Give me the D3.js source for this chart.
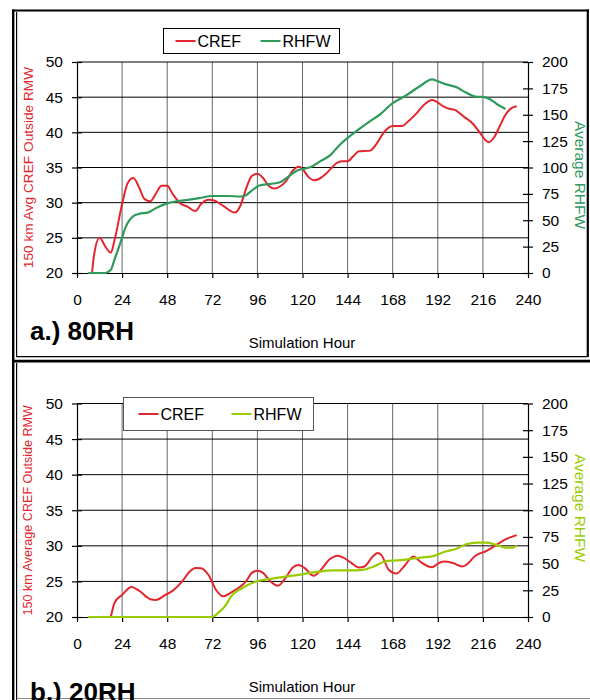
<!DOCTYPE html>
<html>
<head>
<meta charset="utf-8">
<script src="https://cdn.jsdelivr.net/npm/d3@7"></script>
<style>
  body { margin: 0; background: #fff; }
  svg { display: block; font-family: "Liberation Sans", Arial, sans-serif; }
</style>
</head>
<body>
<div id="chart"></div>
<script>
// x ticks shared by both panels
const hourTicks = [0, 24, 48, 72, 96, 120, 144, 168, 192, 216, 240];
const crefTicks = [20, 25, 30, 35, 40, 45, 50];
const rhfwTicks = [0, 25, 50, 75, 100, 125, 150, 175, 200];

// panel a.) 80RH
const crefHoursA = [8, 9, 12, 15, 18, 20, 24, 27, 30, 33, 36, 39, 42, 45, 48, 51, 55, 59, 63, 66, 70, 73, 78, 84, 87, 90, 93, 96, 99, 102, 105, 108, 111, 115, 118, 120, 123, 126, 129, 132, 135, 138, 141, 144, 147, 150, 156, 159, 163, 166, 168, 173, 176, 181, 185, 189, 191, 195, 198, 201, 206, 210, 214, 217, 219, 222, 225, 228, 231, 234];
const crefA = [20, 22.4, 25, 23.8, 22.9, 24.7, 29.8, 32.8, 33.5, 32.2, 30.5, 30.2, 31.3, 32.4, 32.4, 31.2, 29.9, 29.4, 28.8, 29.8, 30.4, 30.3, 29.5, 28.6, 29.6, 32.0, 33.8, 34.1, 33.5, 32.4, 32.0, 32.3, 33.0, 34.6, 35.1, 34.8, 33.7, 33.2, 33.4, 34.0, 34.8, 35.6, 35.9, 35.9, 36.6, 37.3, 37.4, 38.2, 39.9, 40.7, 40.9, 40.9, 41.5, 42.8, 44.0, 44.6, 44.4, 43.7, 43.35, 43.2, 42.2, 41.4, 40.1, 39.0, 38.6, 39.3, 40.9, 42.5, 43.4, 43.7];
const rhfwHoursA = [6, 15, 18, 20, 23, 26, 30, 33, 38, 42, 48, 53, 58, 65, 72, 80, 87, 89, 94, 97, 103, 108, 113, 117, 120, 125, 130, 135, 139, 144, 149, 156, 161, 168, 174, 182, 189, 191, 196, 202, 207, 213, 216, 220, 224, 228];
const rhfwA = [0, 0, 3, 13, 28, 44, 54, 56, 57.5, 61.5, 66, 68, 69, 71, 73, 73, 72.5, 73, 79.5, 83, 84.5, 86, 92, 97, 98.5, 101, 106.5, 112, 120, 128, 135, 144, 150, 161, 167, 176.5, 183.5, 182.5, 179, 176, 171, 167, 167, 164.5, 159.5, 155.5];

// panel b.) 20RH
const crefHoursB = [18, 20, 24, 29, 33, 39, 42, 47, 51, 56, 60, 63, 66, 70, 74, 78, 81, 86, 90, 93, 96, 99, 103, 107, 111, 115, 118, 121, 126, 130, 134, 139, 142, 146, 150, 153, 157, 160, 162, 166, 170, 174, 179, 183, 189, 192, 195, 200, 205, 207, 212, 218, 223, 228, 234];
const crefB = [20, 22, 23.1, 24.2, 23.7, 22.5, 22.4, 23.1, 23.7, 25, 26.4, 26.9, 26.85, 25.9, 23.8, 22.9, 23.3, 24.1, 25, 26.2, 26.5, 26.2, 25, 24.4, 25.5, 27, 27.3, 26.9, 25.8, 26.7, 28, 28.6, 28.3, 27.6, 26.95, 27.1, 28.4, 29, 28.7, 26.6, 26.1, 27.1, 28.5, 27.7, 27, 27.5, 27.8, 27.6, 27.1, 27.3, 28.6, 29.3, 30.1, 30.9, 31.5];
const rhfwHoursB = [6, 72, 75, 79, 82, 87, 92, 97, 104, 112, 118, 127, 136, 145, 152, 158, 164, 170, 177, 183, 190, 196, 202, 207, 213, 218, 223, 228, 232, 234];
const rhfwB = [0, 0, 3.7, 10.6, 19.3, 26.2, 31, 34, 36, 38, 39.5, 42, 43.6, 43.6, 44.2, 47.3, 52, 53, 54.2, 55.7, 57.3, 61.3, 64, 68.2, 69.7, 69.7, 67.6, 65, 65, 67];

const RED = "#e3262e";

const svg = d3.select("#chart").append("svg")
    .attr("width", 590)
    .attr("height", 700);

// frames
function frames() {
    const f = svg.append("g").attr("fill", "none");
    // outer thick frame
    f.append("line").attr("x1", 13.2).attr("x2", 13.2).attr("y1", 9.5).attr("y2", 700)
        .attr("stroke", "#000").attr("stroke-width", 2.4);
    f.append("line").attr("x1", 12).attr("x2", 589).attr("y1", 10.5).attr("y2", 10.5)
        .attr("stroke", "#000").attr("stroke-width", 2.2);
    f.append("line").attr("x1", 587.8).attr("x2", 587.8).attr("y1", 9.5).attr("y2", 357)
        .attr("stroke", "#000").attr("stroke-width", 2.2);
    f.append("line").attr("x1", 12).attr("x2", 590).attr("y1", 361.2).attr("y2", 361.2)
        .attr("stroke", "#000").attr("stroke-width", 2.8);
    // inner thin lines
    f.append("path").attr("d", "M16.6,12 V356.6 H587")
        .attr("stroke", "#000").attr("stroke-width", 1.2);
    f.append("line").attr("x1", 16.6).attr("x2", 16.6).attr("y1", 363).attr("y2", 700)
        .attr("stroke", "#000").attr("stroke-width", 1.2);
    f.append("line").attr("x1", 17).attr("x2", 590).attr("y1", 698.5).attr("y2", 698.5)
        .attr("stroke", "#888").attr("stroke-width", 1);
}

function panel(opt) {
    const top = opt.top, bottom = opt.bottom;
    const left = 77, right = 528;
    const g = svg.append("g");

    const x = d3.scaleLinear().domain([0, 240]).range([left, right]);
    const yL = d3.scaleLinear().domain([20, 50]).range([bottom, top]);
    const yR = d3.scaleLinear().domain([0, 200]).range([bottom, top]);

    // grid
    g.append("g")
        .selectAll("line.v")
        .data(hourTicks.slice(1, -1))
        .enter().append("line")
        .attr("x1", d => x(d)).attr("x2", d => x(d))
        .attr("y1", top).attr("y2", bottom)
        .attr("stroke", "#666").attr("stroke-width", 1);
    g.append("g")
        .selectAll("line.h")
        .data(crefTicks.slice(1, -1))
        .enter().append("line")
        .attr("x1", left).attr("x2", right)
        .attr("y1", d => yL(d)).attr("y2", d => yL(d))
        .attr("stroke", "#000").attr("stroke-width", 1);
    g.append("line")
        .attr("x1", left).attr("x2", right)
        .attr("y1", top).attr("y2", top)
        .attr("stroke", "#000").attr("stroke-width", 1);

    // axes
    const xAxis = g.append("g")
        .attr("transform", "translate(0," + bottom + ")")
        .call(d3.axisBottom(x).tickValues(hourTicks).tickSizeInner(5).tickSizeOuter(0).tickPadding(16));
    const lAxis = g.append("g")
        .attr("transform", "translate(" + left + ",0)")
        .call(d3.axisLeft(yL).tickValues(crefTicks).tickSizeInner(5).tickSizeOuter(0).tickPadding(9));
    lAxis.selectAll(".tick line").attr("x2", 5).attr("x1", -5);
    const rAxis = g.append("g")
        .attr("transform", "translate(" + right + ",0)")
        .call(d3.axisRight(yR).tickValues(rhfwTicks).tickSizeInner(5).tickSizeOuter(0).tickPadding(9));
    rAxis.selectAll(".tick line").attr("x1", -5).attr("x2", 5);

    [xAxis, lAxis, rAxis].forEach(a => {
        a.select(".domain").attr("stroke", "#000").attr("stroke-width", 1.2);
        a.selectAll(".tick line").attr("stroke", "#000").attr("stroke-width", 1.2);
        a.selectAll("text").attr("fill", "#000")
            .style("font-size", "15.5px")
            .style("font-family", "'Liberation Sans', Arial, sans-serif");
    });

    // series
    const lineL = d3.line().x(d => x(d[0])).y(d => yL(d[1])).curve(d3.curveMonotoneX);
    const lineR = d3.line().x(d => x(d[0])).y(d => yR(d[1])).curve(d3.curveMonotoneX);
    g.append("path")
        .datum(d3.zip(opt.crefHours, opt.cref))
        .attr("fill", "none").attr("stroke", RED).attr("stroke-width", 2)
        .attr("stroke-linejoin", "round")
        .attr("d", lineL);
    g.append("path")
        .datum(d3.zip(opt.rhfwHours, opt.rhfw))
        .attr("fill", "none").attr("stroke", opt.green).attr("stroke-width", 2.2)
        .attr("stroke-linejoin", "round")
        .attr("d", lineR);

    // axis titles
    g.append("text")
        .attr("transform", "translate(" + opt.lTitleX + "," + ((top + bottom) / 2) + ") rotate(-90)")
        .attr("text-anchor", "middle")
        .attr("fill", RED)
        .style("font-size", opt.lTitleSize + "px")
        .text(opt.lTitle);
    g.append("text")
        .attr("transform", "translate(574.5," + opt.rTitleY + ") rotate(90)")
        .attr("text-anchor", "middle")
        .attr("fill", opt.green)
        .style("font-size", "15.5px")
        .text("Average RHFW");
    g.append("text")
        .attr("x", 302).attr("y", opt.xTitleY)
        .attr("text-anchor", "middle")
        .style("font-size", "15px")
        .text("Simulation Hour");
    g.append("text")
        .attr("x", 30).attr("y", opt.labelY)
        .style("font-size", "26px").style("font-weight", "bold")
        .text(opt.label);

    // legend
    const lg = opt.legend;
    g.append("rect")
        .attr("x", lg.x).attr("y", lg.y).attr("width", lg.w).attr("height", lg.h)
        .attr("fill", "#fff").attr("stroke", lg.stroke).attr("stroke-width", 1);
    const items = [["CREF", RED, lg.x1], ["RHFW", opt.green, lg.x2]];
    items.forEach(([name, color, lx]) => {
        g.append("line")
            .attr("x1", lx).attr("x2", lx + 20)
            .attr("y1", lg.y + lg.h / 2).attr("y2", lg.y + lg.h / 2)
            .attr("stroke", color).attr("stroke-width", 2);
        g.append("text")
            .attr("x", lx + 22).attr("y", lg.y + lg.h / 2 + 5.5)
            .style("font-size", "16px")
            .text(name);
    });
}

frames();

panel({
    top: 62, bottom: 273,
    crefHours: crefHoursA, cref: crefA,
    rhfwHours: rhfwHoursA, rhfw: rhfwA,
    green: "#2f9a5c",
    lTitle: "150 km Avg CREF Outside RMW", lTitleSize: 13.7, lTitleX: 33,
    rTitleY: 175,
    xTitleY: 348,
    label: "a.) 80RH", labelY: 340,
    legend: {x: 163.5, y: 28.5, w: 176, h: 25, stroke: "#000", x1: 175.5, x2: 260.5}
});

panel({
    top: 403.5, bottom: 617,
    crefHours: crefHoursB, cref: crefB,
    rhfwHours: rhfwHoursB, rhfw: rhfwB,
    green: "#99cc00",
    lTitle: "150 km Average CREF Outside RMW", lTitleSize: 12.6, lTitleX: 32,
    rTitleY: 508,
    xTitleY: 692,
    label: "b.) 20RH", labelY: 701,
    legend: {x: 123.5, y: 397.5, w: 190, h: 33, stroke: "#555", x1: 138.5, x2: 231.5}
});
</script>
</body>
</html>
